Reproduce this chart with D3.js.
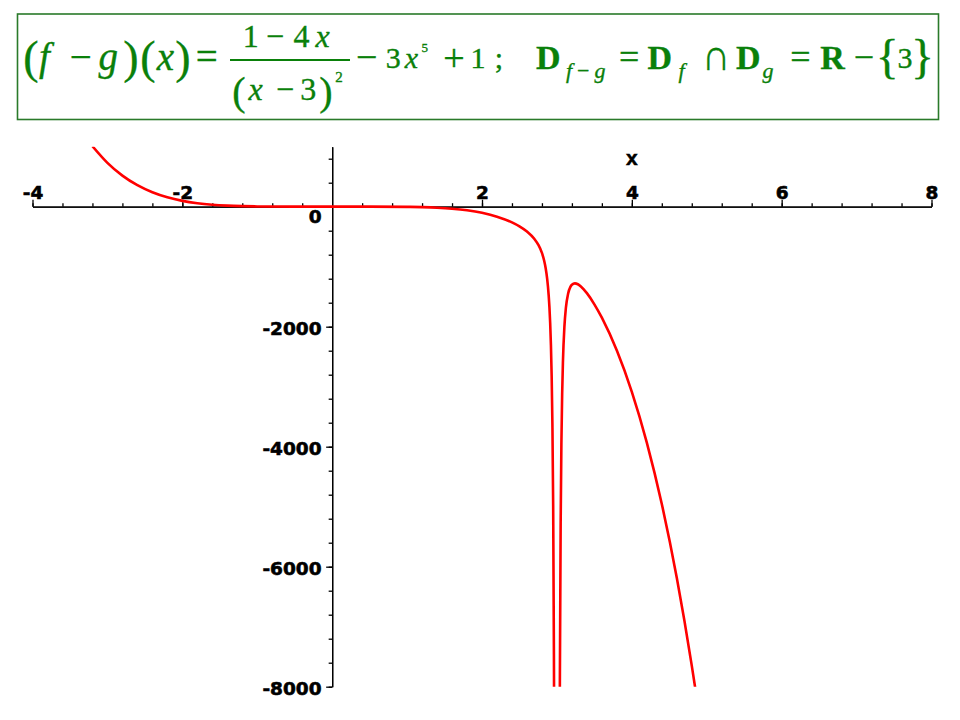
<!DOCTYPE html>
<html><head><meta charset="utf-8">
<script src="https://cdn.jsdelivr.net/npm/d3@7"></script>
<style>body{margin:0;background:#fff}</style>
</head><body><svg id="c" width="960" height="720"></svg>
<script>
// ---- data ----
const xDomain = [-4, 8];
const yDomain = [-8000, 1000];
const xTickValues = [-4, -2, 2, 4, 6, 8];
const yTickValues = [-8000, -6000, -4000, -2000];
const xMinorStep = 0.4;
const yMinorStep = 400;
// branch left of the asymptote x = 3
const branch1X = [-3.2, -3.0, -2.8, -2.6, -2.4, -2.2, -2.0, -1.8, -1.6, -1.4, -1.2, -1.0, -0.5, 0, 0.5, 1.0, 1.2, 1.4, 1.6, 1.8, 2.0, 2.2, 2.4, 2.5, 2.6, 2.7, 2.75, 2.8, 2.83, 2.85, 2.87, 2.89, 2.9, 2.91, 2.92, 2.93, 2.94, 2.95, 2.96, 2.962];
const branch1Y = [1008, 730.4, 517.7, 357.8, 240.3, 156.0, 97.4, 58.0, 32.8, 17.5, 8.8, 4.3, 1.34, 1.11, 0.75, -2.75, -7.64, -16.9, -33.2, -60.0, -102, -165.8, -261.8, -328.0, -414.2, -538.4, -630.8, -770.3, -900.7, -1025.3, -1203.3, -1476.5, -1674.3, -1938.6, -2304.6, -2834.6, -3646.9, -4989.2, -7455.7, -8195];
// branch right of the asymptote
const branch2X = [3.039, 3.04, 3.05, 3.06, 3.07, 3.08, 3.10, 3.12, 3.15, 3.18, 3.2, 3.24, 3.28, 3.32, 3.4, 3.5, 3.6, 3.8, 4.0, 4.2, 4.4, 4.6, 4.8, 4.84, 4.85];
const branch2Y = [-8109, -7752.9, -5270.8, -3926.1, -3119.1, -2599.3, -1997.9, -1683.1, -1445.0, -1336.3, -1300.6, -1277.8, -1292.5, -1329.0, -1440.8, -1626.7, -1850.2, -2398.2, -3086, -3930.8, -4955.0, -6184.7, -7648.7, -7972.4, -8055];

const svg = d3.select("#c");
const x = d3.scaleLinear().domain(xDomain).range([32.5, 931.5]);
const y = d3.scaleLinear().domain(yDomain).range([686.7, 146.7]);

// ---- title box ----
const green = "#0a800a";
svg.append("rect").attr("x", 17.5).attr("y", 14).attr("width", 921).attr("height", 105.5)
  .attr("fill", "none").attr("stroke", "#2a7a2a").attr("stroke-width", 1.6);

const serif = "'Liberation Serif','Times New Roman',serif";
const glyphs = [
  ["(", 30.8, 73, 46, ""], ["f", 44.5, 69.5, 39, "i"], ["−", 80.8, 69.5, 39, ""], ["g", 108.3, 69.5, 39, "i"],
  [")", 130.8, 73, 46, ""], ["(", 148, 73, 46, ""], ["x", 165.5, 69.5, 39, "i"], [")", 183, 73, 46, ""],
  ["=", 206.7, 69.5, 39, ""],
  ["1", 250.8, 46.7, 32, ""], ["−", 275, 46.7, 32, ""], ["4", 301.5, 46.7, 32, ""], ["x", 322.5, 46.7, 32, "i"],
  ["(", 239, 104.7, 40, ""], ["x", 255.5, 100, 32, "i"], ["−", 285, 100, 32, ""], ["3", 308.3, 100, 32, ""],
  [")", 325.8, 104.7, 40, ""], ["2", 339, 81.7, 15, ""],
  ["−", 366.7, 69.5, 38, ""], ["3", 393.3, 68.3, 30, ""], ["x", 411.5, 68.3, 30, "i"], ["5", 424.8, 51.7, 13, ""],
  ["+", 454, 70.5, 38, ""], ["1", 478, 68.3, 30, ""], [";", 499, 68.3, 30, ""],
  ["D", 548.3, 69.3, 34, "b"], ["f", 569, 78, 22, "i"], ["−", 583.3, 78, 22, ""], ["g", 600, 78, 22, "i"],
  ["=", 629.2, 68.5, 36, ""], ["D", 659.8, 69.3, 34, "b"], ["f", 681.5, 78, 22, "i"],
  ["D", 748.3, 69.3, 34, "b"], ["g", 768, 78, 22, "i"],
  ["=", 800.5, 68.5, 36, ""], ["R", 832.5, 69.3, 34, "b"], ["−", 864, 68.5, 36, ""],
  ["{", 887.3, 72.6, 48, ""], ["3", 905, 68.3, 30, ""], ["}", 922.5, 72.6, 48, ""]
];
svg.append("g").selectAll("text").data(glyphs).join("text")
  .attr("x", d => d[1]).attr("y", d => d[2]).attr("font-size", d => d[3])
  .attr("font-family", serif).attr("text-anchor", "middle").attr("fill", green)
  .attr("stroke", green).attr("stroke-width", 0.35)
  .attr("font-style", d => d[4] === "i" ? "italic" : "normal")
  .attr("font-weight", d => d[4] === "b" ? "bold" : "normal")
  .text(d => d[0]);
// intersection sign, stretched to the reference width
svg.append("text").attr("x", 702).attr("y", 69.5).attr("font-size", 44)
  .attr("font-family", serif).attr("fill", green).attr("stroke", green).attr("stroke-width", 0.35)
  .attr("textLength", 28).attr("lengthAdjust", "spacingAndGlyphs").text("∩");
svg.append("line").attr("x1", 230).attr("x2", 350).attr("y1", 60).attr("y2", 60)
  .attr("stroke", green).attr("stroke-width", 1.8);

// ---- axes ----
const axisFont = "'DejaVu Sans',sans-serif";
const xMinor = d3.range(xDomain[0], xDomain[1] + 1e-9, xMinorStep).filter(v => Math.abs(v) > 1e-9);
const yMinor = d3.range(yDomain[0], 800 + 1e-9, yMinorStep).filter(v => Math.abs(v) > 1e-9);

const gx = svg.append("g").attr("transform", `translate(0,${y(0)})`);
gx.call(d3.axisTop(x).tickValues(xMinor).tickSize(3.5).tickSizeOuter(0).tickFormat(""));
gx.append("g").call(d3.axisTop(x).tickValues(xTickValues).tickSize(7).tickSizeOuter(0).tickPadding(0.5)
  .tickFormat(d => String(d)));

const gy = svg.append("g").attr("transform", `translate(${x(0)},0)`);
gy.call(d3.axisLeft(y).tickValues(yMinor).tickSize(3.5).tickSizeOuter(0).tickFormat(""));
gy.append("g").call(d3.axisLeft(y).tickValues(yTickValues).tickSize(6).tickSizeOuter(0).tickPadding(4.6)
  .tickFormat(d => String(d)));

svg.selectAll(".domain, .tick line").attr("stroke", "#000").attr("stroke-width", 1.3);
svg.selectAll(".tick text").attr("font-family", axisFont).attr("font-weight", "bold")
  .attr("font-size", 18.5).attr("fill", "#000").attr("stroke", "#000").attr("stroke-width", 0.6);
gy.selectAll(".tick text").attr("dy", "0.41em");

svg.append("text").attr("x", x(0) - 10.5).attr("y", y(0) + 16.6).attr("text-anchor", "end")
  .attr("font-family", axisFont).attr("font-weight", "bold").attr("font-size", 18.5)
  .attr("stroke", "#000").attr("stroke-width", 0.6).text("0");
svg.append("text").attr("x", x(4)).attr("y", 165).attr("text-anchor", "middle")
  .attr("font-family", "'Liberation Sans',Arial,sans-serif").attr("font-weight", "bold")
  .attr("font-size", 21).attr("stroke", "#000").attr("stroke-width", 0.5).text("x");

// ---- curve ----
svg.append("clipPath").attr("id", "plotclip").append("rect")
  .attr("x", x(xDomain[0])).attr("y", y(yDomain[1])).attr("width", x(xDomain[1]) - x(xDomain[0]))
  .attr("height", y(yDomain[0]) - y(yDomain[1]));
const line = d3.line().x(d => x(d[0])).y(d => y(d[1])).curve(d3.curveMonotoneX);
const branches = [d3.zip(branch1X, branch1Y), d3.zip(branch2X, branch2Y)];
svg.append("g").attr("clip-path", "url(#plotclip)").selectAll("path").data(branches).join("path")
  .attr("d", line).attr("fill", "none").attr("stroke", "#f00").attr("stroke-width", 2.6)
  .attr("stroke-linejoin", "round");
</script></body></html>
